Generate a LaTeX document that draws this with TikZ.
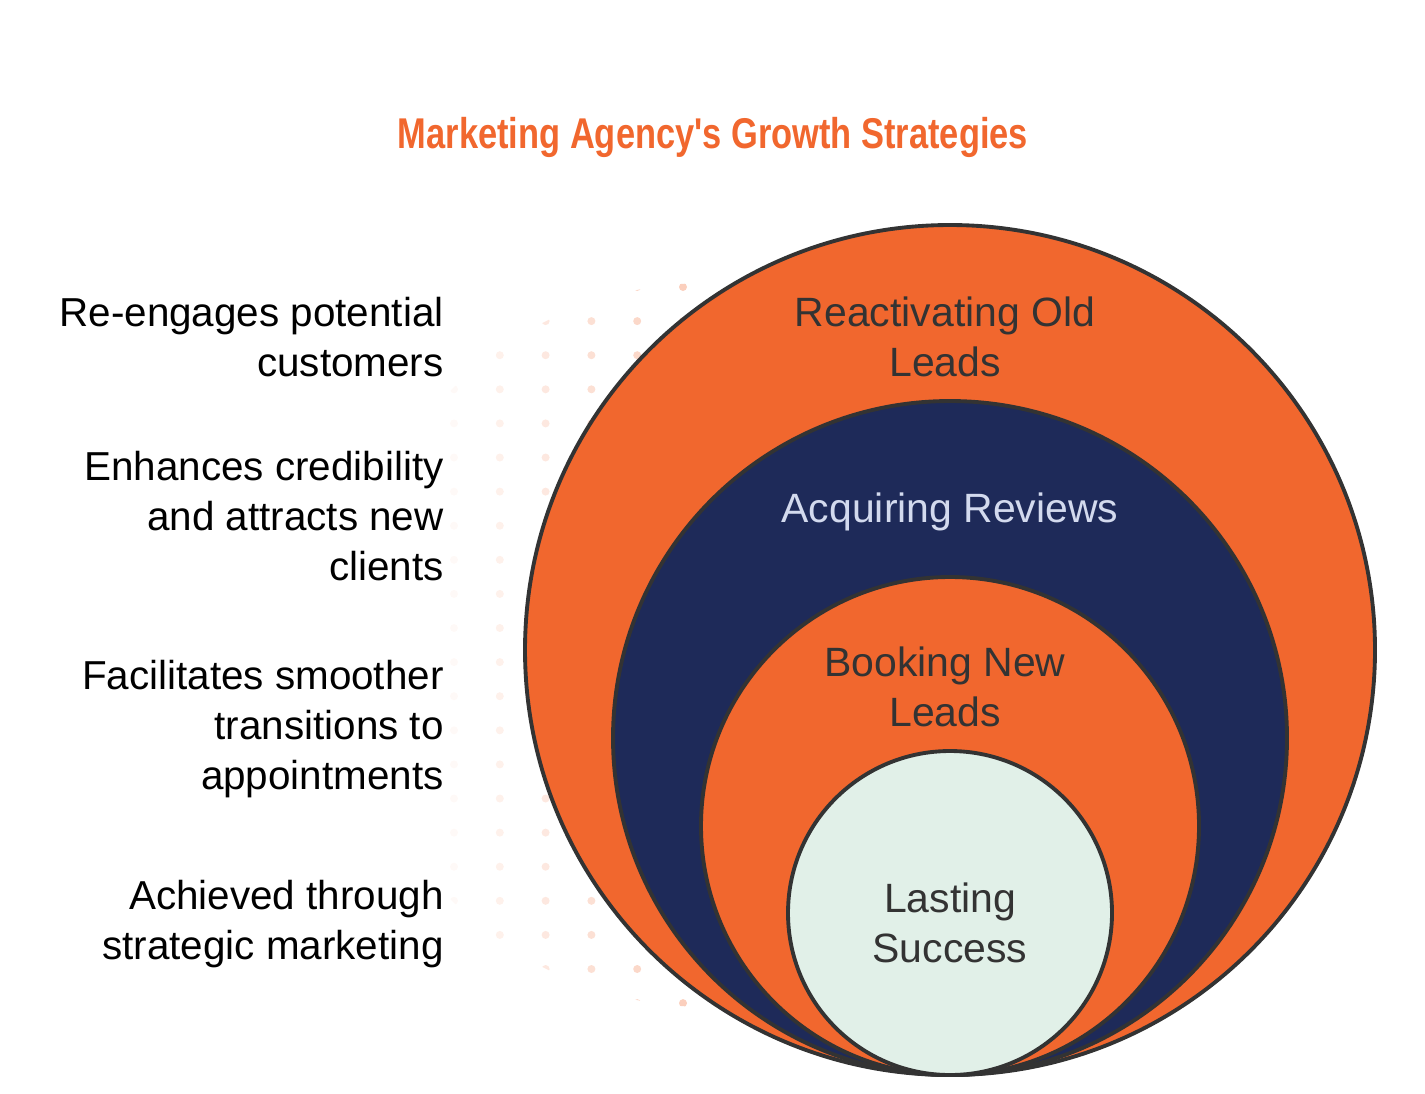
\documentclass[tikz,border=0pt]{standalone}
\usepackage{fontspec}
\setmainfont{Liberation Sans}
\newfontfamily\titlefont[FakeStretch=0.8]{Liberation Sans}
\definecolor{leadorange}{HTML}{F1672E}
\definecolor{reviewnavy}{HTML}{1E2A59}
\definecolor{successmint}{HTML}{E1F0E8}
\definecolor{ringline}{HTML}{333333}
\definecolor{reviewtext}{HTML}{D3DAEE}

\begin{document}
\begin{tikzpicture}[x=0.02cm,y=-0.02cm,
	ring/.style={draw=ringline,line width=2.2pt},
	ringtext/.style={text=ringline,align=center,font=\fontsize{23.3}{28.45}\selectfont},
	note/.style={anchor=east,align=right,inner sep=0pt,font=\fontsize{23}{28.45}\selectfont}]

	\useasboundingbox (0,0) rectangle (1425,1093);

	\node[text=leadorange,font=\titlefont\bfseries\fontsize{24.5}{30}\selectfont] (title) at (713,137) {Marketing Agency's Growth Strategies};

	\begin{scope}
		\clip (708,645) circle [radius=362];
		\foreach \k [evaluate=\k as \op using 0.04+0.055*\k] in {0,...,5}
			\foreach \j in {0,...,21}
				\fill[leadorange,opacity=\op] (454+45.8*\k,287+34.1*\j) circle [radius=4];
	\end{scope}

	\filldraw[ring,fill=leadorange] (950,650) circle [radius=425];
	\filldraw[ring,fill=reviewnavy] (950,738) circle [radius=337];
	\filldraw[ring,fill=leadorange] (950,826) circle [radius=249];
	\filldraw[ring,fill=successmint] (950,913) circle [radius=162];

	\node[ringtext] (old) at (945,337) {Reactivating Old\\Leads};
	\node[ringtext,text=reviewtext] (reviews) at (950,512) {Acquiring Reviews};
	\node[ringtext] (booking) at (945,687) {Booking New\\Leads};
	\node[ringtext] (success) at (950,923) {Lasting\\Success};

	\node[note] (old_note) at (444,337) {Re-engages potential\\customers};
	\node[note] (reviews_note) at (444,516) {Enhances credibility\\and attracts new\\clients};
	\node[note] (booking_note) at (444,729) {Facilitates smoother\\transitions to\\appointments};
	\node[note] (success_note) at (444,924) {Achieved through\\strategic marketing};

\end{tikzpicture}
\end{document}
